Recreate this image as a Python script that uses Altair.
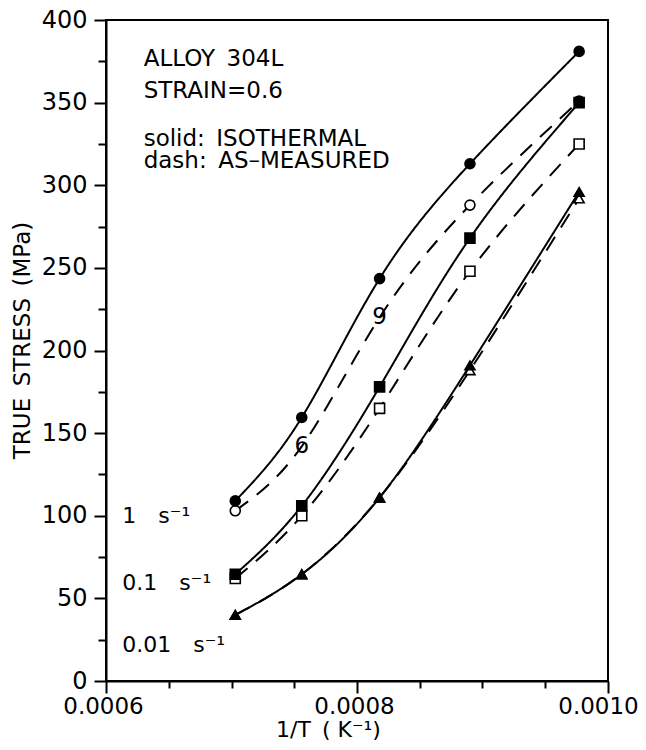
import altair as alt
import pandas as pd

# 1/T values (K^-1) for the five test temperatures
inv_T = [0.000703, 0.000756, 0.000818, 0.000890, 0.000977]

# True stress (MPa) at strain 0.6
iso_1 = [109, 159.5, 243.5, 313, 381]
meas_1 = [103, 142, 220, 288, 351]
iso_01 = [64.6, 106, 178, 268, 350]
meas_01 = [62, 100, 165, 248, 325]
iso_001 = [40, 64.6, 111, 191, 296]
meas_001 = [40, 64.6, 111, 188, 292]

# marker glyph per point and fill
meas_1_marker = ["circle", "6", "9", "circle", "circle"]
meas_1_fill = ["white", "white", "white", "white", "black"]

x_ticks = [0.0006, 0.00065, 0.0007, 0.00075, 0.0008, 0.00085, 0.0009, 0.00095, 0.0010]
y_ticks = [0, 25, 50, 75, 100, 125, 150, 175, 200, 225, 250, 275, 300, 325, 350, 375, 400]

GAP = "\u2002"  # en space (SVG keeps it)
rate_labels = ["1" + GAP + GAP + "s\u207b\u00b9", "0.1" + GAP + GAP + "s\u207b\u00b9", "0.01" + GAP + GAP + "s\u207b\u00b9"]
rate_label_x = [0.000613, 0.000613, 0.000613]
rate_label_y = [95.5, 55, 17.5]

note_lines = ["ALLOY" + GAP + "304L", "STRAIN=0.6", "solid:" + GAP + "ISOTHERMAL", "dash:" + GAP + "AS\u2013MEASURED"]
note_x = [0.00063, 0.00063, 0.00063, 0.00063]
note_y = [372, 353, 324, 310.5]

rows = []
def add(series, kind, ys, markers, fills, order):
    for i, (xv, yv) in enumerate(zip(inv_T, ys)):
        rows.append(dict(series=series, kind=kind, x=xv, y=yv,
                         marker=markers[i], fill=fills[i], order=order))

add("meas_1", "meas", meas_1, meas_1_marker, meas_1_fill, 0)
add("meas_01", "meas", meas_01, ["square"] * 5, ["white"] * 5, 0)
add("meas_001", "meas", meas_001, ["triangle-up"] * 5, ["white"] * 5, 0)
add("iso_1", "iso", iso_1, ["circle"] * 5, ["black"] * 5, 1)
add("iso_01", "iso", iso_01, ["square"] * 5, ["black"] * 5, 1)
add("iso_001", "iso", iso_001, ["triangle-up"] * 5, ["black"] * 5, 1)
df = pd.DataFrame(rows)

FONT = "DejaVu Sans"

xscale = alt.Scale(domain=[0.0006, 0.0010], nice=False, zero=False)
yscale = alt.Scale(domain=[0, 400], nice=False)

MAJX = "abs(datum.value*5000 - round(datum.value*5000)) < 0.001"
xaxis = alt.Axis(
    values=x_ticks,
    labelExpr=MAJX + " ? format(datum.value, '.4f') : ''",
    tickSize={"condition": {"test": MAJX, "value": 12}, "value": 7},
    labelOffset={"condition": {"test": "datum.value > 0.00099", "value": -10}, "value": -3},
    labelPadding=2,
    labelFlush=False,
    labelFontSize=23,
    title="1/T" + GAP + "( K\u207b\u00b9)",
    titleFontSize=22,
    titleX=222, titleY=55, titleAlign="center", titleBaseline="alphabetic",
    grid=False,
)
yaxis = alt.Axis(
    values=y_ticks,
    labelExpr="datum.value % 50 == 0 ? datum.value : ''",
    tickSize={"condition": {"test": "datum.value % 50 == 0", "value": 12}, "value": 8},
    labelPadding=7,
    labelFontSize=24,
    title="TRUE" + GAP + "STRESS" + GAP + "(MPa)",
    titleFontSize=23,
    titleAngle=-90, titleX=-84, titleY=320, titleAlign="center", titleBaseline="middle",
    grid=False,
)

base = alt.Chart(df)

lines = base.mark_line(interpolate="natural", color="black", strokeWidth=2).encode(
    x=alt.X("x:Q", scale=xscale, axis=xaxis),
    y=alt.Y("y:Q", scale=yscale, axis=yaxis),
    detail="series:N",
    strokeDash=alt.StrokeDash("kind:N", scale=alt.Scale(domain=["iso", "meas"], range=[[1, 0], [16, 11]]), legend=None),
)

points = base.transform_filter(
    "datum.marker != '6' && datum.marker != '9'"
).mark_point(filled=True, stroke="black", strokeWidth=1.6, size=100, opacity=1).encode(
    x=alt.X("x:Q", scale=xscale),
    y=alt.Y("y:Q", scale=yscale),
    shape=alt.Shape("marker:N", scale=None),
    fill=alt.Fill("fill:N", scale=None),
    order=alt.Order("order:Q"),
)

digits = base.transform_filter(
    "datum.marker == '6' || datum.marker == '9'"
).mark_text(font=FONT, fontSize=23, color="black", baseline="middle", align="center").encode(
    x=alt.X("x:Q", scale=xscale),
    y=alt.Y("y:Q", scale=yscale),
    text="marker:N",
)

rates = alt.Chart(pd.DataFrame({"t": rate_labels, "x": rate_label_x, "y": rate_label_y})).mark_text(
    font=FONT, fontSize=22, color="black", align="left", baseline="alphabetic"
).encode(x=alt.X("x:Q", scale=xscale), y=alt.Y("y:Q", scale=yscale), text="t:N")

notes = alt.Chart(pd.DataFrame({"t": note_lines, "x": note_x, "y": note_y})).mark_text(
    font=FONT, fontSize=23, color="black", align="left", baseline="alphabetic"
).encode(x=alt.X("x:Q", scale=xscale), y=alt.Y("y:Q", scale=yscale), text="t:N")

chart = alt.layer(lines, points, digits, rates, notes).properties(
    width=502, height=661,
    autosize=alt.AutoSizeParams(type="none"),
    padding={"left": 98, "top": 12, "right": 30, "bottom": 59},
    background="white",
).configure_view(
    stroke="black", strokeWidth=2
).configure_axis(
    labelFont=FONT, labelColor="black",
    titleFont=FONT, titleColor="black", titleFontWeight="normal",
    domainColor="black", domainWidth=2, tickColor="black", tickWidth=2,
)

chart.save("out.html", embed_options={"renderer": "svg", "actions": False})
